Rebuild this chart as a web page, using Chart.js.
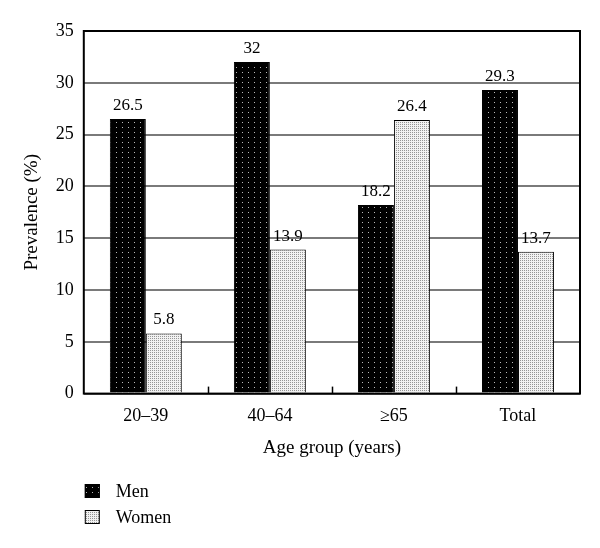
<!DOCTYPE html>
<html>
<head>
<meta charset="utf-8">
<script src="https://cdn.jsdelivr.net/npm/chart.js@4/dist/chart.umd.min.js"></script>
<style>
  html,body{margin:0;padding:0;background:#fff;}
  #wrap{width:600px;height:548px;}
</style>
</head>
<body>
<div id="wrap"><canvas id="chart" width="600" height="548"></canvas></div>
<script>
const categories=['20–39','40–64','≥65','Total'];
const menValues=[26.5,32,18.2,29.3];
const womenValues=[5.8,13.9,26.4,13.7];
const seriesNames=['Men','Women'];
const yTicks=[0,5,10,15,20,25,30,35];

const FONT='"Liberation Serif", "DejaVu Serif", serif';

function makePattern(size,bg,dot,dots){
  const c=document.createElement('canvas');c.width=size[0];c.height=size[1];
  const g=c.getContext('2d');g.fillStyle=bg;g.fillRect(0,0,size[0],size[1]);
  g.fillStyle=dot;dots.forEach(p=>g.fillRect(p[0],p[1],1,1));
  return g.createPattern(c,'repeat');
}
const ctx=document.getElementById('chart').getContext('2d');
const menFill=makePattern([6,5],'#000','#bbb',[[2,2]]);
const womenFill=makePattern([2,2],'#f2f2f2','#959595',[[0,0]]);

const frame={
  id:'frame',
  afterDatasetsDraw(chart){
    const {ctx,chartArea:a,scales:{x}}=chart;
    ctx.save();
    ctx.strokeStyle='#000';ctx.lineWidth=2;
    ctx.strokeRect(a.left,a.top,a.right-a.left,a.bottom-a.top);
    // inner tick marks between categories
    const half=(x.getPixelForValue(1)-x.getPixelForValue(0))/2;
    ctx.lineWidth=1.5;
    for(let i=0;i<categories.length-1;i++){
      const px=Math.round(x.getPixelForValue(i)+half)+0.5;
      ctx.beginPath();ctx.moveTo(px,a.bottom);ctx.lineTo(px,a.bottom-7);ctx.stroke();
    }
    // value labels
    ctx.fillStyle='#000';ctx.font='17px '+FONT;ctx.textAlign='center';ctx.textBaseline='bottom';
    chart.data.datasets.forEach((ds,di)=>{
      chart.getDatasetMeta(di).data.forEach((bar,i)=>{
        ctx.fillText(String(ds.data[i]),bar.x,bar.y-5);
      });
    });
    // legend
    ctx.textAlign='left';ctx.textBaseline='middle';ctx.font='18px '+FONT;
    chart.data.datasets.forEach((ds,di)=>{
      const y=chart.height-57+di*26;
      ctx.fillStyle=ds.backgroundColor;
      ctx.fillRect(a.left+1,y-7,15,14);
      ctx.lineWidth=1;ctx.strokeStyle='#000';
      ctx.strokeRect(a.left+1.5,y-6.5,14,13);
      ctx.fillStyle='#000';
      ctx.fillText(ds.label,a.left+32,y+1);
    });
    ctx.restore();
  }
};

new Chart(ctx,{
  type:'bar',
  data:{
    labels:categories,
    datasets:[
      {label:seriesNames[0],data:menValues,backgroundColor:menFill,borderColor:'#000',borderWidth:1,categoryPercentage:0.58,barPercentage:1},
      {label:seriesNames[1],data:womenValues,backgroundColor:womenFill,borderColor:'#000',borderWidth:1,categoryPercentage:0.58,barPercentage:1}
    ]
  },
  options:{
    responsive:false,animation:false,
    layout:{padding:{left:17,right:20,top:31,bottom:85}},
    plugins:{legend:{display:false},tooltip:{enabled:false}},
    scales:{
      x:{
        grid:{display:false},border:{display:false},
        ticks:{color:'#000',font:{family:FONT,size:18},padding:4},
        title:{display:true,text:'Age group (years)',color:'#000',font:{family:FONT,size:19},padding:{top:5}}
      },
      y:{
        min:0,max:35,
        afterBuildTicks:axis=>{axis.ticks=yTicks.map(v=>({value:v}));},
        grid:{color:'#7a7a7a',lineWidth:2,drawTicks:false},border:{display:false},
        ticks:{color:'#000',font:{family:FONT,size:18},padding:10},
        title:{display:true,text:'Prevalence (%)',color:'#000',font:{family:FONT,size:19},padding:{bottom:2}}
      }
    }
  },
  plugins:[frame]
});
</script>
</body>
</html>
